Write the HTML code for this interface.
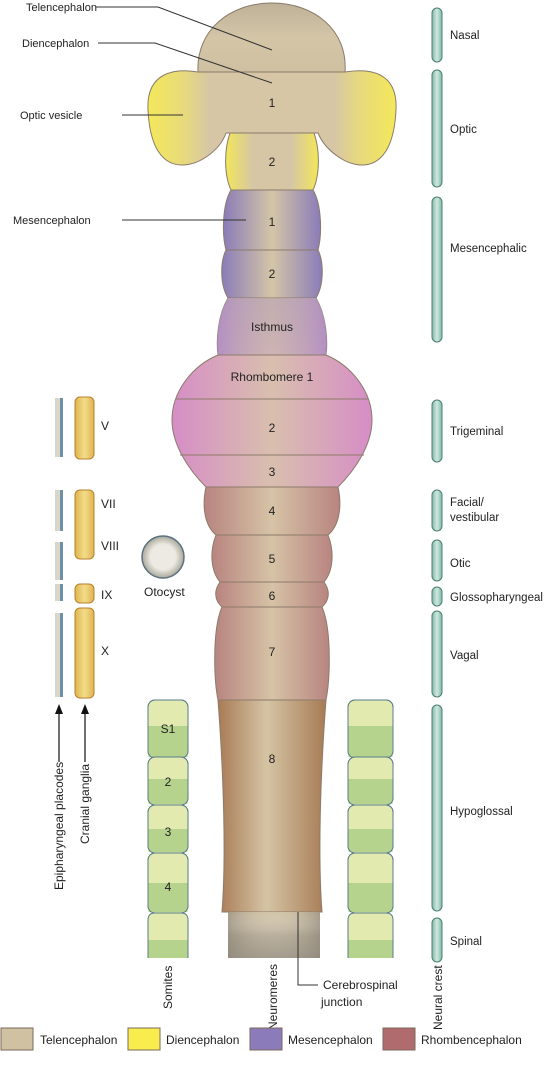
<!DOCTYPE html>
<html><head><meta charset="utf-8"><style>
body{margin:0;background:#fff}
svg{display:block;font-family:"Liberation Sans",sans-serif}
text{fill:#222}
</style></head><body>
<svg width="545" height="1082" viewBox="0 0 545 1082">
<defs>
<linearGradient id="gTel" x1="0" x2="0" y1="0" y2="1"><stop offset="0" stop-color="#bdb197"/><stop offset="0.5" stop-color="#d4c5a7"/><stop offset="1" stop-color="#cfc0a2"/></linearGradient>
<linearGradient id="gDi" x1="0" x2="1"><stop offset="0" stop-color="#f2e65a"/><stop offset="0.3" stop-color="#d6c6a6"/><stop offset="0.7" stop-color="#d6c6a6"/><stop offset="1" stop-color="#f2e65a"/></linearGradient>
<linearGradient id="gVes" x1="0" x2="1"><stop offset="0" stop-color="#f4e85a"/><stop offset="0.15" stop-color="#e7d97d"/><stop offset="0.25" stop-color="#d6c6a6"/><stop offset="0.75" stop-color="#d6c6a6"/><stop offset="0.85" stop-color="#e7d97d"/><stop offset="1" stop-color="#f4e85a"/></linearGradient>
<linearGradient id="gMes" x1="0" x2="1"><stop offset="0" stop-color="#8a7cb8"/><stop offset="0.5" stop-color="#d4c5a7"/><stop offset="1" stop-color="#8a7cb8"/></linearGradient>
<linearGradient id="gIst" x1="0" x2="0" y1="0" y2="1"><stop offset="0" stop-color="#a48cbc"/><stop offset="1" stop-color="#c59ac4"/></linearGradient>
<linearGradient id="gIstH" x1="0" x2="1"><stop offset="0" stop-color="#b28fc2" stop-opacity="0.9"/><stop offset="0.5" stop-color="#d4c5a7" stop-opacity="0.6"/><stop offset="1" stop-color="#b28fc2" stop-opacity="0.9"/></linearGradient>
<linearGradient id="gRh1" x1="0" x2="1"><stop offset="0" stop-color="#d68dc6"/><stop offset="0.5" stop-color="#d9bfae"/><stop offset="1" stop-color="#d68dc6"/></linearGradient>
<linearGradient id="gRh" x1="0" x2="1"><stop offset="0" stop-color="#b88480"/><stop offset="0.5" stop-color="#d6c3a6"/><stop offset="1" stop-color="#b88480"/></linearGradient>
<linearGradient id="gR8" x1="0" x2="1"><stop offset="0" stop-color="#a87b55"/><stop offset="0.45" stop-color="#d5c4a4"/><stop offset="1" stop-color="#a87b55"/></linearGradient>
<linearGradient id="gSp" x1="0" x2="0" y1="0" y2="1"><stop offset="0" stop-color="#d2c4a8"/><stop offset="1" stop-color="#c9c2b4"/></linearGradient>
<linearGradient id="gSpH" x1="0" x2="1"><stop offset="0" stop-color="#8e8678"/><stop offset="0.5" stop-color="#d4c5a7" stop-opacity="0"/><stop offset="1" stop-color="#8e8678"/></linearGradient>
<linearGradient id="gSpV" x1="0" x2="0" y1="0" y2="1"><stop offset="0" stop-color="#fff" stop-opacity="0"/><stop offset="0.5" stop-color="#8a8275" stop-opacity="0.3"/><stop offset="1" stop-color="#8a8275" stop-opacity="0.6"/></linearGradient>
<linearGradient id="gNC" x1="0" x2="1"><stop offset="0" stop-color="#7fb8a6"/><stop offset="0.5" stop-color="#cfe8df"/><stop offset="1" stop-color="#7fb8a6"/></linearGradient>
<linearGradient id="gGang" x1="0" x2="1"><stop offset="0" stop-color="#e0b450"/><stop offset="0.5" stop-color="#f3dc8a"/><stop offset="1" stop-color="#e0b450"/></linearGradient>
<linearGradient id="gPla" x1="0" x2="1"><stop offset="0" stop-color="#d8d6c8"/><stop offset="0.6" stop-color="#d8d6c8"/><stop offset="0.6" stop-color="#6d8fa8"/><stop offset="1" stop-color="#6d8fa8"/></linearGradient>
<radialGradient id="gOto"><stop offset="0.6" stop-color="#eceae2"/><stop offset="1" stop-color="#aaa899"/></radialGradient>
</defs>

<!-- Neural tube -->
<g stroke="#8c7b6a" stroke-width="1">
<path d="M198,72 C196,30 230,3 272,3 C314,3 348,30 345,72 Z" fill="url(#gTel)"/>
<path d="M198,72 L345,72 C370,68 398,72 396,110 C394,150 380,165 362,165 C345,165 325,150 318,133 L226,133 C220,150 200,165 182,165 C164,165 150,150 148,110 C146,72 175,68 198,72 Z" fill="url(#gVes)"/>
<path d="M230,133 L314,133 C320,150 320,175 313,190 L231,190 C224,175 224,150 230,133 Z" fill="url(#gDi)"/>
<path d="M231,190 L313,190 C322,205 322,235 318,250 L226,250 C222,235 222,205 231,190 Z" fill="url(#gMes)"/>
<path d="M226,250 L318,250 C324,262 324,285 316,298 L228,298 C220,285 220,262 226,250 Z" fill="url(#gMes)"/>
<path d="M228,298 L316,298 C326,315 328,340 326,355 L218,355 C216,340 218,315 228,298 Z" fill="url(#gIst)"/>
<path d="M228,298 L316,298 C326,315 328,340 326,355 L218,355 C216,340 218,315 228,298 Z" fill="url(#gIstH)" stroke="none"/>
<path d="M218,355 L326,355 C350,365 372,390 372,420 C372,445 355,470 338,487 L206,487 C189,470 172,445 172,420 C172,390 194,365 218,355 Z" fill="url(#gRh1)"/>
<line x1="176" y1="399" x2="368" y2="399"/>
<line x1="180" y1="455" x2="364" y2="455"/>
<path d="M206,487 L338,487 C342,505 340,525 328,535 L216,535 C204,525 202,505 206,487 Z" fill="url(#gRh)"/>
<path d="M216,535 L328,535 C334,550 334,570 324,582 L220,582 C210,570 210,550 216,535 Z" fill="url(#gRh)"/>
<path d="M220,582 L324,582 C330,590 330,600 322,607 L222,607 C214,600 214,590 220,582 Z" fill="url(#gRh)"/>
<path d="M222,607 L322,607 C332,630 330,680 326,700 L218,700 C214,680 212,630 222,607 Z" fill="url(#gRh)"/>
<path d="M218,700 L326,700 C320,780 318,860 322,912 L222,912 C226,860 224,780 218,700 Z" fill="url(#gR8)"/>
<rect x="228" y="912" width="92" height="46" fill="url(#gSp)" stroke="none"/>
<rect x="228" y="912" width="92" height="46" fill="url(#gSpH)" stroke="none" opacity="0.7"/>
<rect x="228" y="912" width="92" height="46" fill="url(#gSpV)" stroke="none"/>
</g>
<g font-size="12" text-anchor="middle">
<text x="272" y="107">1</text><text x="272" y="166">2</text><text x="272" y="226">1</text><text x="272" y="278">2</text>
<text x="272" y="331">Isthmus</text><text x="272" y="381">Rhombomere 1</text><text x="272" y="432">2</text><text x="272" y="476">3</text>
<text x="272" y="515">4</text><text x="272" y="563">5</text><text x="272" y="600">6</text><text x="272" y="656">7</text><text x="272" y="763">8</text>
</g>

<!-- Leader lines & left labels -->
<g stroke="#333" stroke-width="1" fill="none">
<polyline points="96,7 158,7 272,50"/>
<polyline points="98,43 155,43 272,83"/>
<line x1="122" y1="115" x2="183" y2="115"/>
<line x1="122" y1="220" x2="246" y2="220"/>
<polyline points="298,912 298,985 318,985"/>
</g>
<g font-size="11">
<text x="26" y="11">Telencephalon</text>
<text x="22" y="47">Diencephalon</text>
<text x="20" y="119">Optic vesicle</text>
<text x="13" y="224">Mesencephalon</text>
<text x="323" y="989" font-size="12">Cerebrospinal</text>
<text x="321" y="1006" font-size="12">junction</text>
</g>

<!-- Neural crest -->
<g fill="url(#gNC)" stroke="#4c7f73" stroke-width="1">
<rect x="432" y="8" width="10" height="54" rx="5"/>
<rect x="432" y="70" width="10" height="117" rx="5"/>
<rect x="432" y="197" width="10" height="145" rx="5"/>
<rect x="432" y="400" width="10" height="62" rx="5"/>
<rect x="432" y="490" width="10" height="41" rx="5"/>
<rect x="432" y="540" width="10" height="41" rx="5"/>
<rect x="432" y="587" width="10" height="19" rx="5"/>
<rect x="432" y="611" width="10" height="86" rx="5"/>
<rect x="432" y="705" width="10" height="206" rx="5"/>
<rect x="432" y="918" width="10" height="44" rx="5"/>
</g>
<g font-size="11.5">
<text x="450" y="39">Nasal</text><text x="450" y="133">Optic</text><text x="450" y="252">Mesencephalic</text>
<text x="450" y="435">Trigeminal</text><text x="450" y="506">Facial/</text><text x="450" y="521">vestibular</text>
<text x="450" y="567">Otic</text><text x="450" y="601" textLength="93" lengthAdjust="spacingAndGlyphs">Glossopharyngeal</text><text x="450" y="659">Vagal</text>
<text x="450" y="815">Hypoglossal</text><text x="450" y="945">Spinal</text>
</g>

<!-- Somites -->
<g stroke="#5a7d8a" stroke-width="1">
<g>
<rect x="148" y="700" width="40" height="58" rx="7" fill="#e3eab0"/><rect x="148.5" y="726" width="39" height="31" fill="#b6d38e" stroke="none"/><rect x="148" y="700" width="40" height="58" rx="7" fill="none"/>
<rect x="148" y="757" width="40" height="48" rx="7" fill="#e3eab0"/><rect x="148.5" y="779" width="39" height="25" fill="#b6d38e" stroke="none"/><rect x="148" y="757" width="40" height="48" rx="7" fill="none"/>
<rect x="148" y="805" width="40" height="48" rx="7" fill="#e3eab0"/><rect x="148.5" y="829" width="39" height="23" fill="#b6d38e" stroke="none"/><rect x="148" y="805" width="40" height="48" rx="7" fill="none"/>
<rect x="148" y="853" width="40" height="60" rx="7" fill="#e3eab0"/><rect x="148.5" y="883" width="39" height="29" fill="#b6d38e" stroke="none"/><rect x="148" y="853" width="40" height="60" rx="7" fill="none"/>
<path d="M148,958 L148,920 Q148,913 155,913 L181,913 Q188,913 188,920 L188,958" fill="#e3eab0"/><rect x="148.5" y="940" width="39" height="18" fill="#b6d38e" stroke="none"/>
</g>
<g>
<rect x="348" y="700" width="45" height="58" rx="7" fill="#e3eab0"/><rect x="348.5" y="726" width="44" height="31" fill="#b6d38e" stroke="none"/><rect x="348" y="700" width="45" height="58" rx="7" fill="none"/>
<rect x="348" y="757" width="45" height="48" rx="7" fill="#e3eab0"/><rect x="348.5" y="779" width="44" height="25" fill="#b6d38e" stroke="none"/><rect x="348" y="757" width="45" height="48" rx="7" fill="none"/>
<rect x="348" y="805" width="45" height="48" rx="7" fill="#e3eab0"/><rect x="348.5" y="829" width="44" height="23" fill="#b6d38e" stroke="none"/><rect x="348" y="805" width="45" height="48" rx="7" fill="none"/>
<rect x="348" y="853" width="45" height="60" rx="7" fill="#e3eab0"/><rect x="348.5" y="883" width="44" height="29" fill="#b6d38e" stroke="none"/><rect x="348" y="853" width="45" height="60" rx="7" fill="none"/>
<path d="M348,958 L348,920 Q348,913 355,913 L386,913 Q393,913 393,920 L393,958" fill="#e3eab0"/><rect x="348.5" y="940" width="44" height="18" fill="#b6d38e" stroke="none"/>
</g>
</g>
<g font-size="12" text-anchor="middle">
<text x="168" y="733">S1</text><text x="168" y="786">2</text><text x="168" y="836">3</text><text x="168" y="891">4</text>
</g>

<!-- Placodes & ganglia -->
<g fill="url(#gPla)">
<rect x="55" y="398" width="8" height="59"/><rect x="55" y="490" width="8" height="41"/><rect x="55" y="542" width="8" height="38"/>
<rect x="55" y="584" width="8" height="17"/><rect x="55" y="613" width="8" height="84"/>
</g>
<g fill="url(#gGang)" stroke="#b5822a" stroke-width="1">
<rect x="75" y="397" width="19" height="62" rx="5"/><rect x="75" y="490" width="19" height="69" rx="5"/>
<rect x="75" y="584" width="19" height="19" rx="5"/><rect x="75" y="608" width="19" height="90" rx="5"/>
</g>
<g font-size="12">
<text x="101" y="430">V</text><text x="101" y="508">VII</text><text x="101" y="550">VIII</text><text x="101" y="599">IX</text><text x="101" y="655">X</text>
</g>
<circle cx="163" cy="557" r="21" fill="url(#gOto)" stroke="#5c7282" stroke-width="1.5"/>
<text x="144" y="596" font-size="12">Otocyst</text>

<!-- Arrows -->
<g stroke="#111" stroke-width="1.2">
<line x1="59" y1="712" x2="59" y2="762"/><line x1="85" y1="712" x2="85" y2="762"/>
</g>
<path d="M55,714 L59,704 L63,714 Z M81,714 L85,704 L89,714 Z" fill="#111"/>
<g font-size="12">
<text transform="translate(63,890) rotate(-90)">Epipharyngeal placodes</text>
<text transform="translate(89,844) rotate(-90)">Cranial ganglia</text>
<text transform="translate(172,1009) rotate(-90)">Somites</text>
<text transform="translate(277,1030) rotate(-90)">Neuromeres</text>
<text transform="translate(442,1030) rotate(-90)">Neural crest</text>
</g>

<!-- Legend -->
<g stroke="#7a6a5a" stroke-width="1" font-size="12">
<rect x="1" y="1028" width="32" height="22" fill="#d0c1a2"/>
<rect x="128" y="1028" width="32" height="22" fill="#f8ed4d"/>
<rect x="250" y="1028" width="32" height="22" fill="#8c7bbb"/>
<rect x="383" y="1028" width="32" height="22" fill="#b06b6e"/>
<g stroke="none"><text x="40" y="1044">Telencephalon</text><text x="166" y="1044">Diencephalon</text><text x="288" y="1044">Mesencephalon</text><text x="421" y="1044">Rhombencephalon</text></g>
</g>
</svg>
</body></html>
